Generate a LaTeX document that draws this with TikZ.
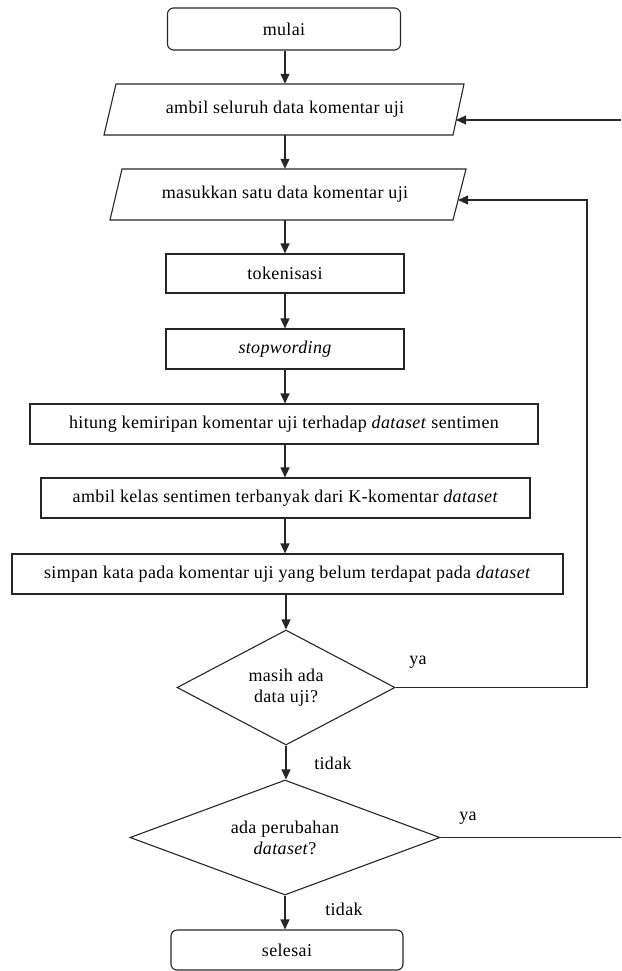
\documentclass[tikz,border=0pt]{standalone}
\usepackage{fontspec}
\setmainfont{Liberation Serif}[LetterSpace=2]
\usetikzlibrary{arrows.meta,shapes.geometric}
\begin{document}
\begin{tikzpicture}[x=1pt,y=-1pt,
  every node/.style={font=\fontsize{18}{21}\selectfont},
  ln/.style={line width=1.1pt, draw=black!85},
  arr/.style={ln,-{Triangle[length=10pt,width=9pt]}},
  box/.style={ln, rectangle, inner sep=0pt},
  term/.style={ln, rectangle, rounded corners=6pt, inner sep=0pt},
  txt/.style={rectangle, inner sep=0pt},
  dec/.style={ln, diamond, inner sep=0pt, align=center},
  lbl/.style={inner sep=0pt}]
\useasboundingbox (0,0) rectangle (621,971);
% terminals
\node[term, minimum width=233pt, minimum height=42pt] (mulai) at (284,29) {mulai};
% parallelograms
\draw[ln] (104,135) -- (116,84) -- (464,84) -- (453,135) -- cycle;
\node[txt, minimum width=330pt, minimum height=51pt] (ambil) at (285,109.5) {ambil seluruh data komentar uji};
\draw[ln] (110,220) -- (122,169) -- (466,169) -- (453,220) -- cycle;
\node[txt, minimum width=330pt, minimum height=51pt] (masuk) at (285,194.5) {masukkan satu data komentar uji};
% process boxes
\node[box, minimum width=238pt, minimum height=39pt] (tok) at (285,273.5) {tokenisasi};
\node[box, minimum width=238pt, minimum height=40pt] (stop) at (285,349) {\itshape stopwording};
\node[box, minimum width=508pt, minimum height=40pt] (hit) at (284,424) {hitung kemiripan komentar uji terhadap \textit{dataset} sentimen};
\node[box, minimum width=489pt, minimum height=40pt] (kelas) at (285.5,498) {ambil kelas sentimen terbanyak dari K-komentar \textit{dataset}};
\node[box, minimum width=551pt, minimum height=40pt] (simpan) at (287.5,574) {simpan kata pada komentar uji yang belum terdapat pada \textit{dataset}};
% decisions
\node[dec, minimum width=218pt, minimum height=115pt, aspect=1.9] (d1) at (286,687.5) {masih ada\\data uji?};
\node[dec, minimum width=310pt, minimum height=115pt, aspect=2.7] (d2) at (285,837.5) {ada perubahan\\\textit{dataset}?};
\node[term, minimum width=232pt, minimum height=40pt] (selesai) at (287,950) {selesai};
% coordinates
\coordinate (inA) at (456,120);
\coordinate (inM) at (458,200);
\coordinate (c1) at (587,687.5);
\coordinate (c2) at (587,200);
\coordinate (e1) at (621,120);
\coordinate (e2) at (621,837.5);
% main flow
\draw[arr] (mulai.south -| tok.north) -- (tok.north |- ambil.north);
\draw[arr] (ambil.south -| tok.north) -- (tok.north |- masuk.north);
\draw[arr] (masuk.south -| tok.north) -- (tok.north);
\draw[arr] (tok.south) -- (stop.north);
\draw[arr] (stop.south) -- (stop.south |- hit.north);
\draw[arr] (hit.south -| stop.south) -- (stop.south |- kelas.north);
\draw[arr] (kelas.south -| stop.south) -- (stop.south |- simpan.north);
\draw[arr] (simpan.south -| d1.north) -- (d1.north);
\draw[arr] (d1.south) -- (d1.south |- d2.north);
\draw[arr] (d2.south) -- (d2.south |- selesai.north);
% loops
\draw[arr] (d1.east) -- (c1) -- (c2) -- (inM);
\draw[ln] (d2.east) -- (e2);
\draw[arr] (e1) -- (inA);
% labels
\node[lbl] at (418,662) {ya};
\node[lbl] at (333,763) {tidak};
\node[lbl] at (468,818) {ya};
\node[lbl] at (344,909) {tidak};
\end{tikzpicture}
\end{document}
